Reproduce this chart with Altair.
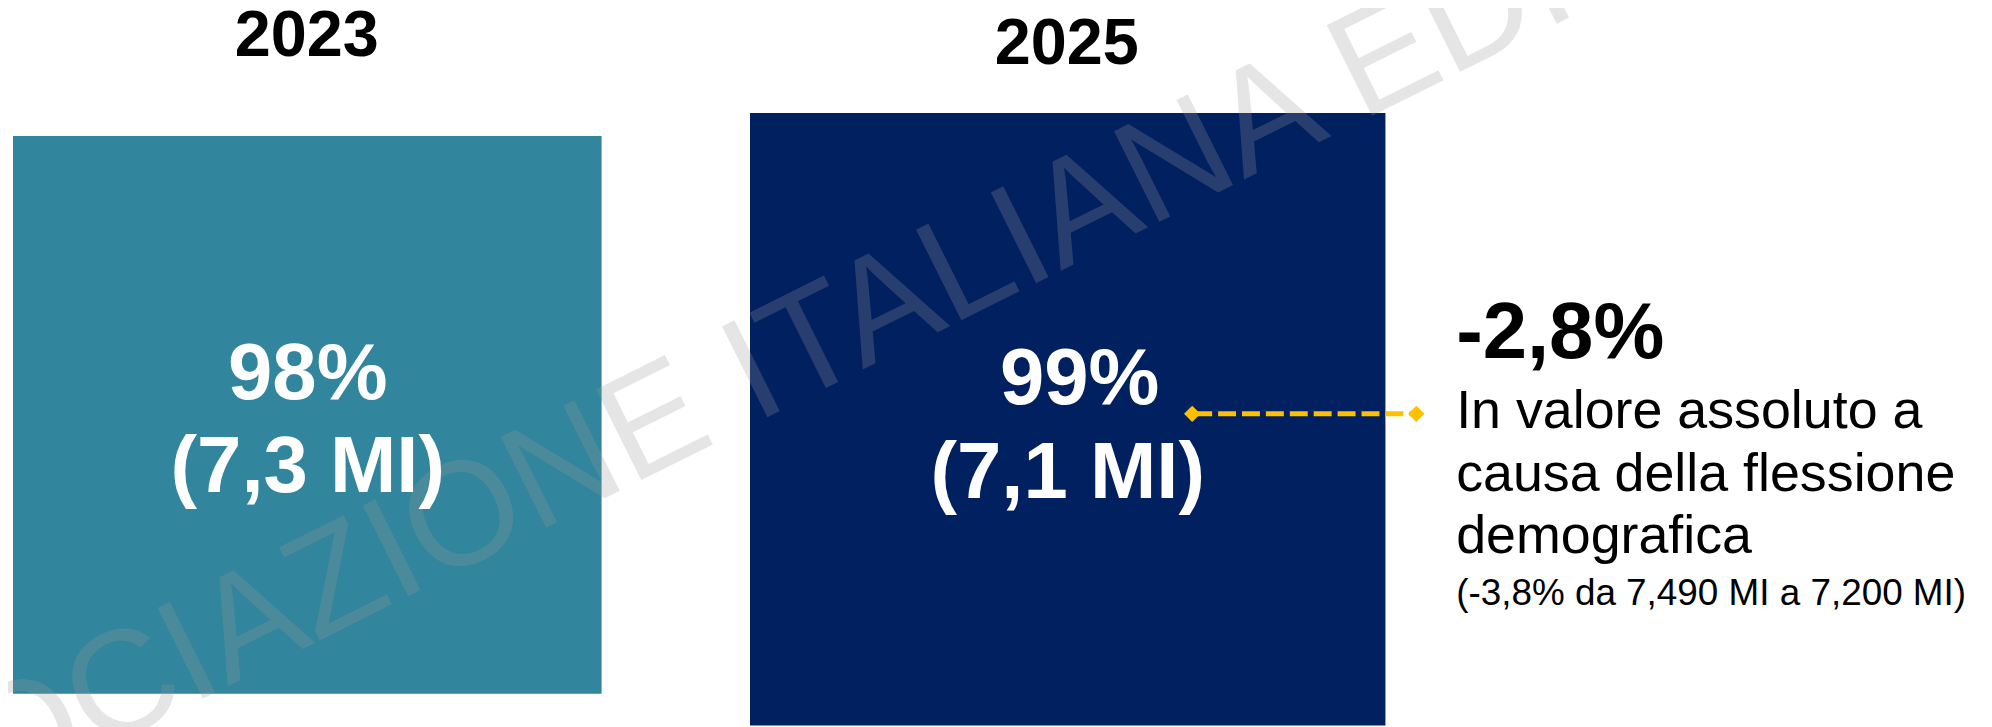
import altair as alt
import pandas as pd

# ---- data -------------------------------------------------------------
years = ["2023", "2025"]
shares = ["98%", "99%"]
volumes = ["(7,3 MI)", "(7,1 MI)"]
bar_colors = ["#31859C", "#002060"]
headline = ["-2,8%"]
body_lines = ["In valore assoluto a", "causa della flessione", "demografica"]
note = ["(-3,8% da 7,490 MI a 7,200 MI)"]
ends = ["from", "to"]
watermark = ["ASSOCIAZIONE ITALIANA EDITORI"]

FONT = "Liberation Sans"
M = 8  # page margin (chart origin sits at 8,8 on the page)
W, H = 1984, 719

bars = pd.DataFrame({"year": years, "share": shares, "volume": volumes})
head_df = pd.DataFrame({"t": headline})
body_df = pd.DataFrame({"t": body_lines})
note_df = pd.DataFrame({"t": note})
ends_df = pd.DataFrame({"end": ends})
wm_df = pd.DataFrame({"t": watermark})

color = alt.Color("year:N", scale=alt.Scale(domain=years, range=bar_colors), legend=None)


def pt(rng):
    return alt.Scale(type="point", domain=years, range=rng, padding=0)


# ---- bars (boxes) -----------------------------------------------------
bar23 = alt.Chart(bars).transform_filter(alt.datum.year == "2023").mark_rect().encode(
    x=alt.value(13 - M), x2=alt.value(604 - M),
    y=alt.value(135 - M), y2=alt.value(695 - M),
    color=color,
)
bar25 = alt.Chart(bars).transform_filter(alt.datum.year == "2025").mark_rect().encode(
    x=alt.value(753 - M), x2=alt.value(1391 - M),
    y=alt.value(112 - M), y2=alt.value(H),
    color=color,
)

# ---- watermark --------------------------------------------------------
wm = alt.Chart(wm_df).mark_text(
    font=FONT, fontSize=148, angle=333.5, align="center", baseline="middle",
    color="#9A9A9A", opacity=0.25,
).encode(text="t:N", x=alt.value(795 - M), y=alt.value(356 - M))

# ---- year titles ------------------------------------------------------
year_lbl = alt.Chart(bars).mark_text(
    font=FONT, fontSize=65, fontWeight="bold", color="#000000",
    align="center", baseline="alphabetic",
).encode(
    text="year:N",
    x=alt.X("year:N", scale=pt([308 - M, 1071 - M]), axis=None),
    y=alt.Y("year:N", scale=pt([55 - M, 63 - M]), axis=None),
)

share_lbl = alt.Chart(bars).mark_text(
    font=FONT, fontSize=80, fontWeight="bold", color="#FFFFFF",
    align="center", baseline="alphabetic",
).encode(
    text="share:N",
    x=alt.X("year:N", scale=pt([309 - M, 1084 - M]), axis=None),
    y=alt.Y("year:N", scale=pt([399 - M, 404 - M]), axis=None),
)

vol_lbl = alt.Chart(bars).mark_text(
    font=FONT, fontSize=80, fontWeight="bold", color="#FFFFFF",
    align="center", baseline="alphabetic",
).encode(
    text="volume:N",
    x=alt.X("year:N", scale=pt([309 - M, 1072 - M]), axis=None),
    y=alt.Y("year:N", scale=pt([493 - M, 499 - M]), axis=None),
)

# ---- connector --------------------------------------------------------
rule = alt.Chart(ends_df).transform_filter(alt.datum.end == "from").mark_rule(
    color="#FFC000", strokeWidth=5, strokeDash=[18, 6],
).encode(x=alt.value(1199 - M), x2=alt.value(1420 - M), y=alt.value(414 - M))

diamonds = alt.Chart(ends_df).mark_point(
    shape="diamond", filled=True, color="#FFC000", opacity=1, size=270,
).encode(
    x=alt.X("end:N", scale=alt.Scale(type="point", domain=ends, range=[1197 - M, 1422 - M], padding=0), axis=None),
    y=alt.value(414 - M),
)

# ---- annotation text --------------------------------------------------
TX = 1462
head = alt.Chart(head_df).mark_text(
    font=FONT, fontSize=80, fontWeight="bold", color="#000000",
    align="left", baseline="alphabetic",
).encode(text="t:N", x=alt.value(TX - M), y=alt.value(358 - M))

body = alt.Chart(body_df).mark_text(
    font=FONT, fontSize=54, color="#000000", align="left", baseline="alphabetic",
).encode(
    text="t:N",
    x=alt.value(TX - M),
    y=alt.Y("t:N", sort=body_lines,
            scale=alt.Scale(type="point", domain=body_lines, range=[428 - M, 554 - M], padding=0),
            axis=None),
)

note_lbl = alt.Chart(note_df).mark_text(
    font=FONT, fontSize=37, color="#000000", align="left", baseline="alphabetic",
).encode(text="t:N", x=alt.value(TX - M), y=alt.value(606 - M))

chart = alt.layer(
    bar23, bar25, wm, year_lbl, share_lbl, vol_lbl, rule, diamonds, head, body, note_lbl
).resolve_scale(
    x="independent", y="independent"
).properties(
    width=W, height=H, autosize=alt.AutoSizeParams(type="none"), padding=0,
    background="#FFFFFF",
).configure_view(stroke=None)

chart.save("out.html", embed_options={"renderer": "svg", "actions": False})
